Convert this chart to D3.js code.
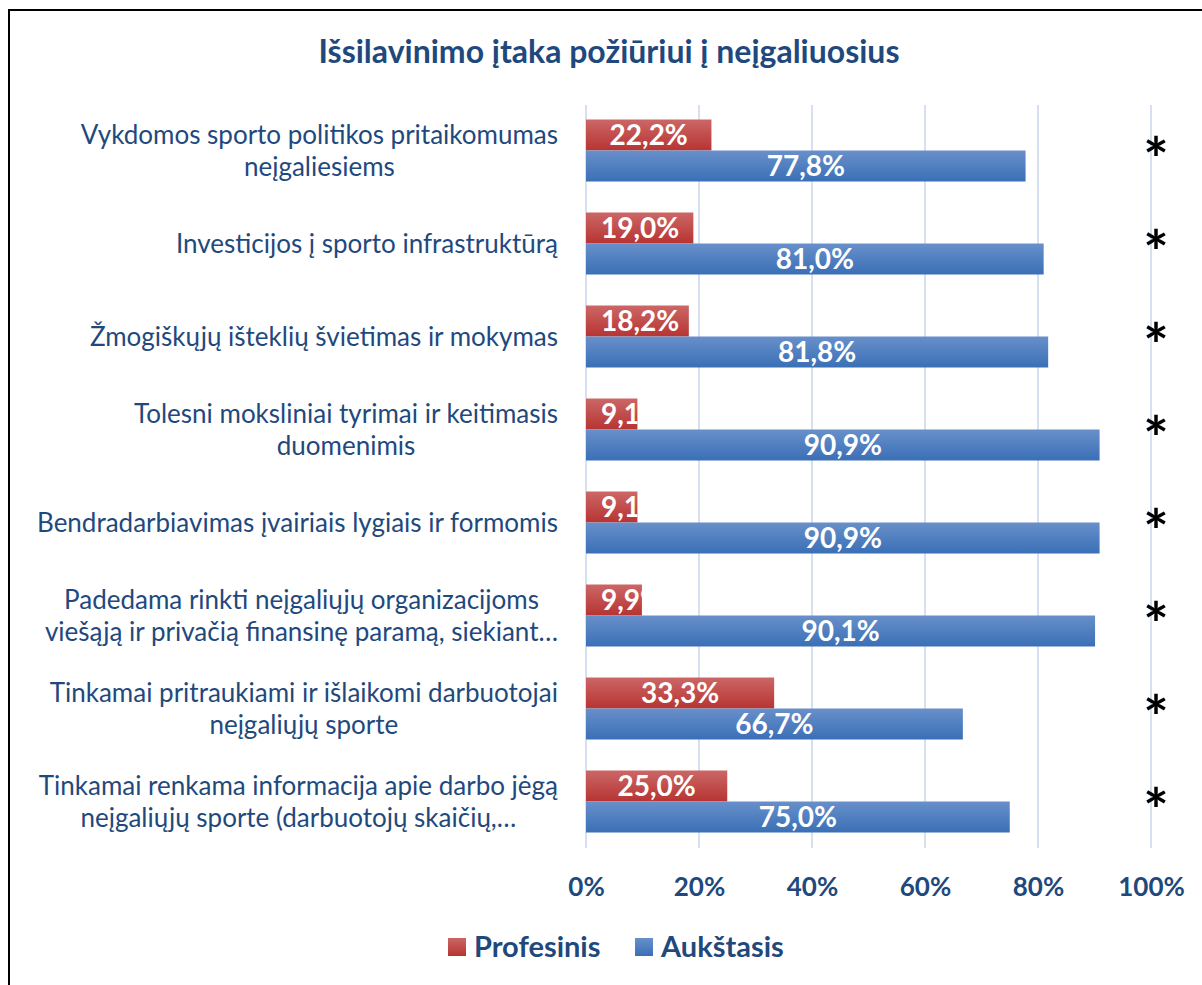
<!DOCTYPE html>
<html>
<head>
<meta charset="utf-8">
<script src="https://cdn.jsdelivr.net/npm/d3@7"></script>
<style>
  body { margin: 0; background: #fff; }
  svg { display: block; font-family: Lato, "Open Sans", sans-serif; }
</style>
</head>
<body>
<div id="chart"></div>
<script>
var W = 1202, H = 985;
var margin = { top: 104, left: 586, right: 51, bottom: 137 };

// data
var categories = [
    ["Vykdomos sporto politikos pritaikomumas", "neįgaliesiems"],
    ["Investicijos į sporto infrastruktūrą"],
    ["Žmogiškųjų išteklių švietimas ir mokymas"],
    ["Tolesni moksliniai tyrimai ir keitimasis", "duomenimis"],
    ["Bendradarbiavimas įvairiais lygiais ir formomis"],
    ["Padedama rinkti neįgaliųjų organizacijoms", "viešąją ir privačią finansinę paramą, siekiant…"],
    ["Tinkamai pritraukiami ir išlaikomi darbuotojai", "neįgaliųjų sporte"],
    ["Tinkamai renkama informacija apie darbo jėgą", "neįgaliųjų sporte (darbuotojų skaičių,…"]
];
var profesinis = [22.2, 19.0, 18.2, 9.1, 9.1, 9.9, 33.3, 25.0];
var aukstasis = [77.8, 81.0, 81.8, 90.9, 90.9, 90.1, 66.7, 75.0];
var ticks = [0, 20, 40, 60, 80, 100];
var seriesNames = ["Profesinis", "Aukštasis"];

var textColor = "#1F497D";

var svg = d3.select("#chart").append("svg")
    .attr("width", W).attr("height", H);

var defs = svg.append("defs");
function grad(id, c1, c2) {
    var g = defs.append("linearGradient").attr("id", id)
        .attr("x1", 0).attr("y1", 0).attr("x2", 0).attr("y2", 1);
    g.append("stop").attr("offset", "0%").attr("stop-color", c1);
    g.append("stop").attr("offset", "100%").attr("stop-color", c2);
}
grad("gRed", "#CB6766", "#B73432");
grad("gBlue", "#6890CA", "#3A6FB6");
var fills = ["url(#gRed)", "url(#gBlue)"];

// outer border (cut off at right and bottom)
svg.append("rect")
    .attr("x", 9).attr("y", 10)
    .attr("width", 1400).attr("height", 1200)
    .attr("fill", "none").attr("stroke", "#000").attr("stroke-width", 2);

// title
svg.append("text")
    .attr("x", 609).attr("y", 63)
    .attr("text-anchor", "middle")
    .attr("font-size", 32).attr("font-weight", "bold")
    .attr("fill", textColor)
    .text("Išsilavinimo įtaka požiūriui į neįgaliuosius");

var x = d3.scaleLinear().domain([0, 100]).range([margin.left, W - margin.right]);

var y = d3.scaleBand().domain(d3.range(categories.length))
    .range([margin.top, H - margin.bottom])
    .paddingInner(1 / 3).paddingOuter(1 / 6);

var sub = d3.scaleBand().domain([0, 1]).range([0, y.bandwidth()]);

// gridlines
svg.append("g").selectAll("line")
    .data(ticks).enter().append("line")
    .attr("x1", d => x(d)).attr("x2", d => x(d))
    .attr("y1", margin.top + 1).attr("y2", H - margin.bottom)
    .attr("stroke", "#D6E0F0").attr("stroke-width", 2);

// x axis labels
var xAxis = d3.axisBottom(x).tickValues(ticks).tickSize(0).tickPadding(0)
    .tickFormat(d => d + "%");
var ax = svg.append("g")
    .attr("transform", "translate(0," + 878 + ")")
    .call(xAxis);
ax.select(".domain").remove();
ax.selectAll("text")
    .attr("font-family", "Lato, sans-serif")
    .attr("font-size", 26).attr("font-weight", "bold")
    .attr("fill", textColor);

// bars
var rows = categories.map((c, i) => [profesinis[i], aukstasis[i]]);
var grp = svg.append("g").selectAll("g")
    .data(rows).enter().append("g")
    .attr("transform", (d, i) => "translate(0," + y(i) + ")");

grp.each(function(vals, i) {
    var g = d3.select(this);
    vals.forEach(function(v, s) {
        var yy = sub(s);
        var h = sub.bandwidth();
        var cid = "clip" + i + "_" + s;
        defs.append("clipPath").attr("id", cid)
            .append("rect")
            .attr("x", x(0)).attr("y", y(i) + yy)
            .attr("width", x(v) - x(0)).attr("height", h);
        g.append("rect")
            .attr("x", x(0)).attr("y", yy)
            .attr("width", x(v) - x(0)).attr("height", h)
            .attr("fill", fills[s]);
        var t = svg.append("text")
            .attr("clip-path", "url(#" + cid + ")")
            .attr("y", y(i) + yy + h / 2)
            .attr("dy", "0.36em")
            .attr("text-anchor", "middle")
            .attr("font-size", 28).attr("font-weight", "bold")
            .attr("fill", "#fff")
            .text(d3.format(".1f")(v).replace(".", ",") + "%");
        var w = t.node().getComputedTextLength();
        var cx = Math.max((x(0) + x(v)) / 2, x(0) + 15 + w / 2);
        t.attr("x", cx);
    });
});

// category labels (lines centered, block right-aligned)
categories.forEach(function(lines, i) {
    var g = svg.append("g");
    var lh = 32;
    var cy = y(i) + y.bandwidth() / 2;
    var ts = lines.map(function(l, k) {
        return g.append("text")
            .attr("y", cy + (k - (lines.length - 1) / 2) * lh)
            .attr("dy", "0.35em")
            .attr("text-anchor", "middle")
            .attr("font-size", 26)
            .attr("fill", textColor)
            .text(l);
    });
    var maxw = d3.max(ts, t => t.node().getComputedTextLength());
    ts.forEach(t => t.attr("x", 558 - maxw / 2));
});

// significance asterisks
svg.append("g").selectAll("text")
    .data(categories).enter().append("text")
    .attr("x", x(100) + 5)
    .attr("y", (d, i) => y(i) + y.bandwidth() / 2 - 6)
    .attr("dy", "0.6em")
    .attr("text-anchor", "middle")
    .attr("font-size", 60).attr("font-weight", "bold")
    .attr("fill", "#000")
    .text("*");

// legend
var leg = svg.append("g").attr("transform", "translate(448,938)");
var lx = [0, 187];
seriesNames.forEach(function(n, s) {
    leg.append("rect").attr("x", lx[s]).attr("y", 0)
        .attr("width", 18).attr("height", 18).attr("fill", fills[s]);
    leg.append("text").attr("x", lx[s] + 26).attr("y", 9)
        .attr("dy", "0.36em")
        .attr("font-size", 29).attr("font-weight", "bold")
        .attr("fill", textColor).text(n);
});
</script>
</body>
</html>
